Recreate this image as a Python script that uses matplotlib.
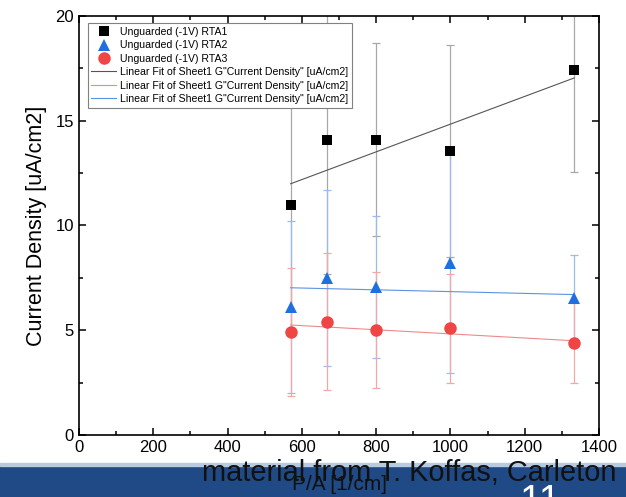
import numpy as np
import matplotlib
matplotlib.use("Agg")
from matplotlib import pyplot as plt
from matplotlib.ticker import MultipleLocator

plt.rcParams['font.family'] = ['Liberation Sans', 'DejaVu Sans']

# perimeter / area for the five structures
pa = [570, 667, 800, 1000, 1333]

rta1 = [10.95, 14.1, 14.1, 13.55, 17.4]
rta1_err = [6.0, 6.4, 4.6, 5.05, 4.85]

rta2 = [6.1, 7.5, 7.05, 8.2, 6.55]
rta2_err = [4.1, 4.2, 3.4, 5.25, 2.05]

rta3 = [4.9, 5.4, 5.0, 5.1, 4.4]
rta3_err = [3.05, 3.27, 2.76, 2.6, 1.9]

fit_label = 'Linear Fit of Sheet1 G"Current Density" [uA/cm2]'


def linear_fit(x, y, err):
    x = np.asarray(x, float)
    coef = np.polyfit(x, y, 1, w=1.0 / np.asarray(err))
    xs = np.array([x.min(), x.max()])
    return xs, np.polyval(coef, xs)


fig = plt.figure(figsize=(6.26, 4.97), dpi=100)
ax = fig.add_axes([0.126, 0.125, 0.831, 0.843])

series = [
    (rta1, rta1_err, 's', '#000000', '#a8a8a8', '#555555', 'Unguarded (-1V) RTA1', 7.5),
    (rta2, rta2_err, '^', '#1f6fe0', '#9dbbe8', '#5b93e3', 'Unguarded (-1V) RTA2', 9),
    (rta3, rta3_err, 'o', '#f04545', '#f0a8a8', '#ec8a8a', 'Unguarded (-1V) RTA3', 9),
]

marks = []
fits = []
for y, err, m, c, ec, fc, lab, ms in series:
    ax.errorbar(pa, y, yerr=err, fmt='none', ecolor=ec, elinewidth=0.9,
                capsize=3, capthick=0.9, zorder=2)
    h, = ax.plot(pa, y, m, color=c, markersize=ms, markeredgewidth=0,
                 label=lab, zorder=4)
    marks.append(h)
    xs, ys = linear_fit(pa, y, err)
    f, = ax.plot(xs, ys, '-', color=fc, lw=0.8, label=fit_label, zorder=3)
    fits.append(f)

ax.set_xlim(0, 1400)
ax.set_ylim(0, 20)
ax.xaxis.set_major_locator(MultipleLocator(200))
ax.xaxis.set_minor_locator(MultipleLocator(100))
ax.yaxis.set_major_locator(MultipleLocator(5))
ax.yaxis.set_minor_locator(MultipleLocator(2.5))
ax.tick_params(which='both', direction='in', top=True, right=True,
               labelsize=12, width=1.1)
ax.tick_params(which='major', length=5)
ax.tick_params(which='minor', length=3)
for s in ax.spines.values():
    s.set_linewidth(1.2)

ax.set_ylabel('Current Density [uA/cm2]', fontsize=15.5, labelpad=6)

# fit legend order: black, red, blue
leg = ax.legend(marks + [fits[0], fits[2], fits[1]],
                [h.get_label() for h in marks] + [fit_label] * 3,
                loc='upper left', bbox_to_anchor=(0.017, 0.983),
                fontsize=7.6, frameon=True, fancybox=False, framealpha=1,
                edgecolor='#808080', borderpad=0.35, labelspacing=0.33,
                handlelength=2.3, handletextpad=0.4, borderaxespad=0)
leg.get_frame().set_linewidth(0.8)
leg.set_zorder(5)

# slide footer band
fig.patches.append(plt.Rectangle((0, 0), 1, 31 / 497, transform=fig.transFigure,
                                 color='#1f4a86', zorder=0))
fig.patches.append(plt.Rectangle((0, 31 / 497), 1, 3 / 497, transform=fig.transFigure,
                                 color='#b9c9de', zorder=0))

fig.text(339 / 626, 1 - 490 / 497, 'P/A [1/cm]', fontsize=15, color='#111111',
         ha='center', va='baseline')
fig.text(617 / 626, 1 - 481 / 497, 'material from T. Koffas, Carleton',
         fontsize=20.9, color='#111111', ha='right', va='baseline')
fig.text(540 / 626, 1 - 512 / 497, '11', fontsize=28, color='white',
         ha='center', va='baseline')

fig.savefig('out.png', dpi=100)
